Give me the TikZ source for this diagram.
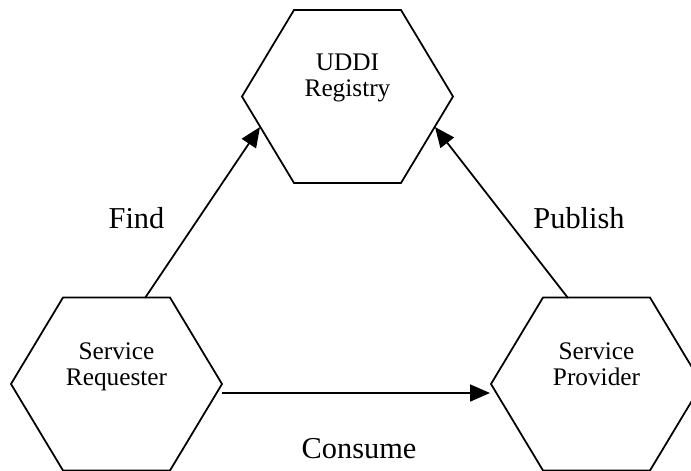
\documentclass[tikz,border=0pt]{standalone}
\usepackage{fontspec}
\setmainfont{Liberation Serif}
\usetikzlibrary{arrows.meta, calc}

\tikzset{
    hexline/.style={line width=1pt},
    hextext/.style={anchor=north, inner sep=0pt, align=center, font=\Large},
    flowtext/.style={anchor=base, inner sep=0pt, font=\LARGE},
    flow/.style={line width=1pt, -{Triangle[length=0.4cm, width=0.34cm]}},
}
\newcommand{\drawhex}[1]{%
    \draw[hexline, shift={(#1)}] (-2.11,0) -- (-1.07,1.73) -- (1.07,1.73) -- (2.11,0) -- (1.07,-1.73) -- (-1.07,-1.73) -- cycle;}

\begin{document}
\begin{tikzpicture}
    \useasboundingbox (0,0) rectangle (13.82,9.4);
    \clip (0,0) rectangle (13.82,9.4);
%____________________________________________________________________________________________________
    \coordinate (regc) at (6.95,7.47);
    \drawhex{regc}
    \node[hextext] (reg) at (6.95,8.32) {UDDI\\[-3.2pt]Registry};
%____________________________________________________________________________________________________
    \coordinate (reqc) at (2.33,1.72);
    \drawhex{reqc}
    \node[hextext] (req) at (2.33,2.56) {Service\\[-3.2pt]Requester};
%____________________________________________________________________________________________________
    \coordinate (provc) at (11.93,1.72);
    \drawhex{provc}
    \node[hextext] (prov) at (11.93,2.56) {Service\\[-3.2pt]Provider};
%____________________________________________________________________________________________________
    \draw[flow] ($(reqc)+(0.57,1.72)$) -- ($(regc)+(-1.75,-0.61)$);
    \draw[flow] ($(provc)+(-0.57,1.72)$) -- ($(regc)+(1.75,-0.61)$);
    \draw[flow] ($(reqc)+(2.11,-0.18)$) -- ($(provc)+(-2.13,-0.18)$);

    \node[flowtext] (find) at (2.73,4.84) {Find};
    \node[flowtext] (publish) at (11.58,4.84) {Publish};
    \node[flowtext] (consume) at (7.18,0.24) {Consume};
\end{tikzpicture}
\end{document}
